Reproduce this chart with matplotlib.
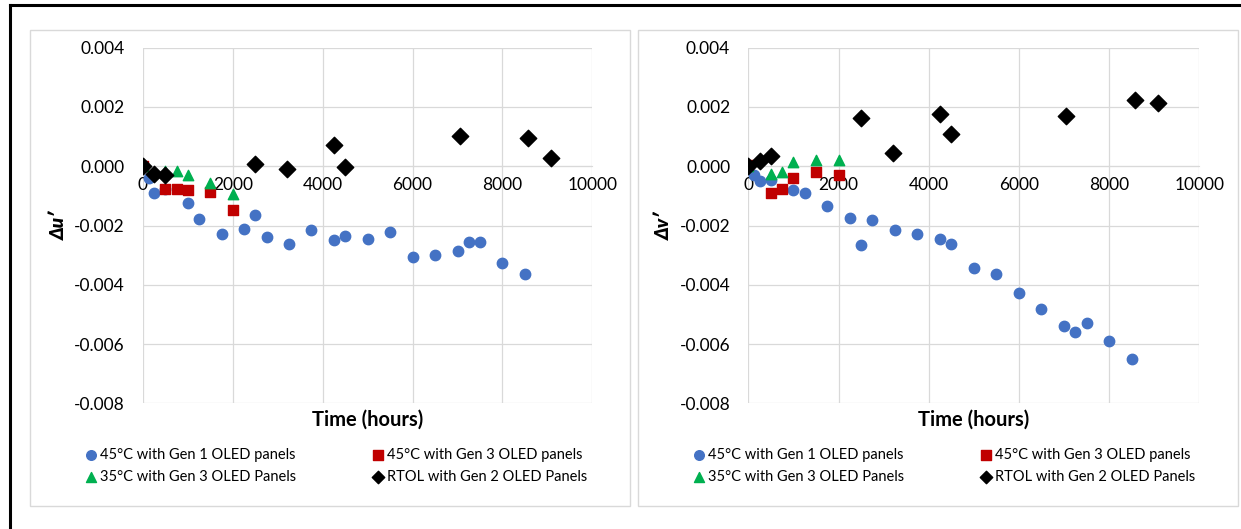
import matplotlib
matplotlib.use("Agg")
import matplotlib.pyplot as plt
from matplotlib.lines import Line2D
from matplotlib.patches import Rectangle
from matplotlib.ticker import FuncFormatter, MultipleLocator

plt.rcParams['font.family'] = ['Lato', 'DejaVu Sans']
plt.rcParams['axes.unicode_minus'] = False

# Aging time (hours) for each test group
hours_gen1 = [0, 125, 250, 500, 1000, 1250, 1750, 2250, 2500, 2750, 3250, 3750,
              4250, 4500, 5000, 5500, 6000, 6500, 7000, 7250, 7500, 8000, 8500]
hours_gen3_45 = [0, 500, 750, 1000, 1500, 2000]
hours_gen3_35 = [0, 500, 750, 1000, 1500, 2000]
hours_rtol = [0, 250, 500, 2500, 3200, 4250, 4500, 7050, 8575, 9075]

# Chromaticity shift du'
du_gen1 = [0, -0.00039, -0.00091, -0.00078, -0.00123, -0.00178, -0.00227, -0.00211,
           -0.00166, -0.00238, -0.00262, -0.00216, -0.00250, -0.00234, -0.00245,
           -0.00223, -0.00305, -0.00299, -0.00286, -0.00257, -0.00257, -0.00326, -0.00365]
du_gen3_45 = [0.00002, -0.00076, -0.00076, -0.00080, -0.00087, -0.00149]
du_gen3_35 = [0, -0.00017, -0.00015, -0.00028, -0.00057, -0.00095]
du_rtol = [0, -0.00026, -0.00029, 0.00008, -0.00008, 0.00073, -0.00003, 0.00103, 0.00094, 0.00028]

# Chromaticity shift dv'
dv_gen1 = [0, -0.00028, -0.00051, -0.00047, -0.00079, -0.00092, -0.00133, -0.00175,
           -0.00265, -0.00180, -0.00215, -0.00230, -0.00245, -0.00261, -0.00344,
           -0.00365, -0.00427, -0.00482, -0.00540, -0.00559, -0.00529, -0.00589, -0.00649]
dv_gen3_45 = [0.00003, -0.00092, -0.00078, -0.00039, -0.00019, -0.00029]
dv_gen3_35 = [0, -0.00025, -0.00019, 0.00015, 0.00021, 0.00020]
dv_rtol = [0, 0.00017, 0.00035, 0.00164, 0.00046, 0.00175, 0.00110, 0.00170, 0.00225, 0.00213]

labels = ["45°C with Gen 1 OLED panels", "45°C with Gen 3 OLED panels",
          "35°C with Gen 3 OLED Panels", "RTOL with Gen 2 OLED Panels"]

W, H = 1241, 529
GRID = '#D9D9D9'


def px_box(x0, y0, x1, y1):
    """Convert a pixel box (top-left origin) into figure fractions."""
    return [x0 / W, 1 - y1 / H, (x1 - x0) / W, (y1 - y0) / H]


def draw_panel(fig, box, panel, ylabel, y_gen1, y_45, y_35, y_rtol, legend_x):
    # light frame round each chart
    fig.add_artist(Rectangle((panel[0] / W, 1 - panel[3] / H),
                             (panel[2] - panel[0]) / W, (panel[3] - panel[1]) / H,
                             transform=fig.transFigure, fill=False,
                             edgecolor=GRID, linewidth=1.0))

    ax = fig.add_axes(px_box(*box))
    h1 = ax.scatter(hours_gen1, y_gen1, s=56, marker='o', color='#4472C4', zorder=3)
    h2 = ax.scatter(hours_gen3_45, y_45, s=52, marker='s', color='#C00000', zorder=4)
    h3 = ax.scatter(hours_gen3_35, y_35, s=56, marker='^', color='#00B050', zorder=5)
    h4 = ax.scatter(hours_rtol, y_rtol, s=70, marker='D', color='black', zorder=6)

    ax.set_xlim(0, 10000)
    ax.set_ylim(-0.008, 0.004)
    ax.xaxis.set_major_locator(MultipleLocator(2000))
    ax.yaxis.set_major_locator(MultipleLocator(0.002))
    ax.yaxis.set_major_formatter(FuncFormatter(lambda v, p: f"{v:.3f}"))

    for s in ['top', 'right', 'left']:
        ax.spines[s].set_visible(False)
    ax.spines['bottom'].set_position(('data', 0))
    ax.spines['bottom'].set_color(GRID)
    ax.grid(True, color=GRID, linewidth=0.9)
    ax.set_axisbelow(True)
    ax.tick_params(axis='both', length=0, labelsize=12.5, colors='black')
    ax.tick_params(axis='y', pad=13)
    ax.tick_params(axis='x', pad=8)

    ax.text(0.5, -0.047, "Time (hours)", transform=ax.transAxes, ha='center',
            va='center', fontsize=14.5, fontweight='bold')
    ax.text(-0.185, 0.5, ylabel, transform=ax.transAxes, ha='center', va='center',
            rotation=90, fontsize=13.5, fontweight='heavy', style='italic')

    leg = fig.legend([h1, h3, h2, h4], [labels[0], labels[2], labels[1], labels[3]],
                     ncol=2, loc='upper left',
                     bbox_to_anchor=(legend_x / W, 1 - 447.5 / H),
                     frameon=False, fontsize=10.5, handlelength=0.7, handletextpad=0.26,
                     columnspacing=5.25, borderpad=0, borderaxespad=0, labelspacing=0.6)
    for hnd, size in zip(leg.legend_handles, [48, 52, 44, 40]):
        hnd.set_sizes([size])
    return ax


fig = plt.figure(figsize=(W / 100, H / 100), dpi=100)
fig.patch.set_facecolor('white')

# black border lines along the left and top edges
fig.add_artist(Line2D([9.5 / W, 9.5 / W], [0, 1 - 5 / H], transform=fig.transFigure,
                      color='black', linewidth=2.2))
fig.add_artist(Line2D([9.5 / W, 1], [1 - 5 / H, 1 - 5 / H], transform=fig.transFigure,
                      color='black', linewidth=2.2))

draw_panel(fig, (143, 47.7, 592.3, 403.3), (29.5, 30, 629.5, 506),
           "Δu′", du_gen1, du_gen3_45, du_gen3_35, du_rtol, 86)
draw_panel(fig, (748.3, 47.7, 1199.3, 403.3), (637.5, 30, 1237.5, 506),
           "Δv′", dv_gen1, dv_gen3_45, dv_gen3_35, dv_rtol, 694)

fig.savefig("out.png", dpi=100)
